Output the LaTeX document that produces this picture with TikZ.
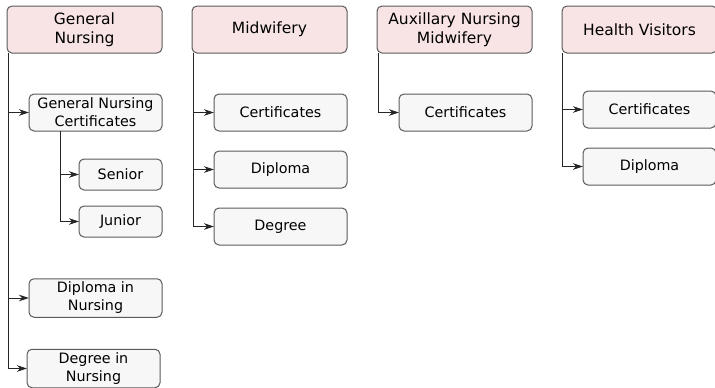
\documentclass[tikz,border=0pt]{standalone}
\usepackage{fontspec}
\setmainfont{DejaVu Sans}
\usetikzlibrary{arrows.meta}

\definecolor{headpink}{HTML}{F8E4E4}
\definecolor{leafgray}{HTML}{F7F7F7}
\definecolor{edgegray}{HTML}{5A5A5A}

\tikzset{
  head/.style={draw=edgegray, line width=1pt, fill=headpink, rounded corners=5pt, outer sep=0pt,
    minimum width=155pt, minimum height=47pt, align=center,
    font=\fontsize{15.5}{19.5}\selectfont},
  leaf/.style={draw=edgegray, line width=1pt, fill=leafgray, rounded corners=5pt, outer sep=0pt,
    minimum width=133pt, minimum height=37pt, align=center,
    font=\fontsize{14.3}{18}\selectfont},
  subleaf/.style={leaf, minimum width=83pt, minimum height=31pt},
  arr/.style={draw=black!85, line width=1pt, -{Stealth[length=10pt,width=6.5pt,inset=3pt]}}
}

\begin{document}
\begin{tikzpicture}[x=1pt, y=-1pt]
  \useasboundingbox (0,0) rectangle (715,388);

  % column heads
  \node[head] (gn) at (84.5,29.5) {General\\Nursing};
  \node[head] (mw) at (269.5,29.5) {Midwifery};
  \node[head] (anm) at (454.5,29.5) {Auxillary Nursing\\Midwifery};
  \node[head] (hv) at (639.5,29.5) {Health Visitors};

  % general nursing
  \node[leaf] (gnc) at (95.5,112.5) {General Nursing\\Certificates};
  \node[subleaf] (senior) at (120.5,174.5) {Senior};
  \node[subleaf] (junior) at (120.5,221.5) {Junior};
  \node[leaf, minimum height=38pt] (dipn) at (95.5,298) {Diploma in\\Nursing};
  \node[leaf, minimum height=38pt] (degn) at (93.5,368.5) {Degree in\\Nursing};

  % midwifery
  \node[leaf] (mwcert) at (280.5,112.5) {Certificates};
  \node[leaf] (mwdip) at (280.5,169.5) {Diploma};
  \node[leaf] (mwdeg) at (280.5,226.5) {Degree};

  % auxillary nursing midwifery
  \node[leaf] (anmcert) at (465.5,112.5) {Certificates};

  % health visitors
  \node[leaf] (hvcert) at (649.5,109.5) {Certificates};
  \node[leaf] (hvdip) at (649.5,166.5) {Diploma};

  \draw[arr] ([xshift=1pt]gn.south west) |- (gnc.west);
  \draw[arr] ([xshift=1pt]gn.south west) |- (dipn.west);
  \draw[arr] ([xshift=1pt]gn.south west) |- (degn.west);
  \draw[arr] ([xshift=31pt]gnc.south west) |- (senior.west);
  \draw[arr] ([xshift=31pt]gnc.south west) |- (junior.west);

  \draw[arr] ([xshift=1pt]mw.south west) |- (mwcert.west);
  \draw[arr] ([xshift=1pt]mw.south west) |- (mwdip.west);
  \draw[arr] ([xshift=1pt]mw.south west) |- (mwdeg.west);

  \draw[arr] ([xshift=1pt]anm.south west) |- (anmcert.west);

  \draw[arr] ([xshift=0.5pt]hv.south west) |- (hvcert.west);
  \draw[arr] ([xshift=0.5pt]hv.south west) |- (hvdip.west);
\end{tikzpicture}
\end{document}
